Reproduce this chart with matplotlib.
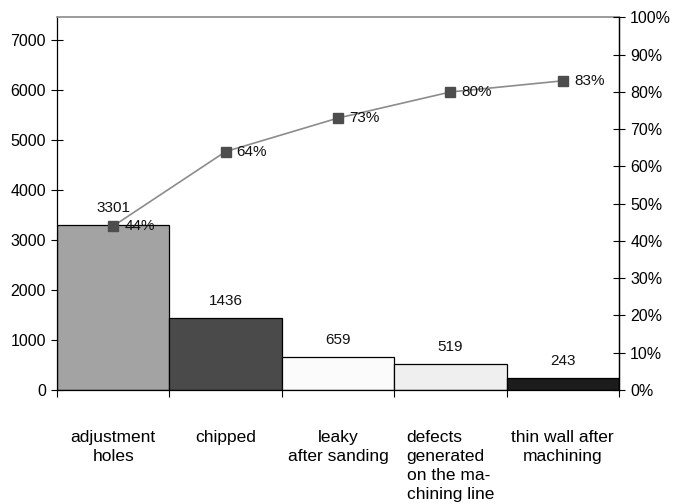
import numpy as np
import matplotlib.pyplot as plt
from matplotlib import font_manager

# --- defect counts and cumulative share ---
categories = ["adjustment\nholes", "chipped", "leaky\nafter sanding",
              "defects\ngenerated\non the ma-\nchining line",
              "thin wall after\nmachining"]
counts = [3301, 1436, 659, 519, 243]
cum_pct = [44, 64, 73, 80, 83]
total_defects = 7450          # left-axis top == 100 % on the right axis

bar_colors = ["#a3a3a3", "#4a4a4a", "#fbfbfb", "#efefef", "#1c1c1c"]

names = {f.name for f in font_manager.fontManager.ttflist}
narrow = "Liberation Sans Narrow" if "Liberation Sans Narrow" in names else "Liberation Sans"

fig = plt.figure(figsize=(6.78, 5.04), dpi=100)
ax = fig.add_axes([0.084, 0.2262, 0.829, 0.7391])

x = np.arange(len(counts))
ax.bar(x, counts, width=1.0, color=bar_colors, edgecolor="black", linewidth=0.9, zorder=2)
ax.set_xlim(-0.5, len(counts) - 0.5)
ax.set_ylim(0, total_defects)

for xi, c in zip(x, counts):
    ax.annotate(str(c), (xi, c), xytext=(0, 7), textcoords="offset points",
                ha="center", va="bottom", fontsize=11, family=narrow, color="#111111")

# bar boundaries carry the ticks, names sit under the bar centres
ax.set_xticks(np.arange(len(counts) + 1) - 0.5)
ax.set_xticklabels([])
ax.tick_params(axis="x", which="major", direction="out", length=5, width=0.8)
ax.set_xticks(x, minor=True)
ax.set_xticklabels(categories, minor=True, fontsize=12.5, family="Liberation Sans",
                   linespacing=1.33, va="top")
for lbl in ax.get_xticklabels(minor=True):
    lbl.set_multialignment("left" if "defects" in lbl.get_text() else "center")
ax.tick_params(axis="x", which="minor", length=0, pad=29)

ax.set_yticks(np.arange(0, 7001, 1000))
ax.tick_params(axis="y", direction="inout", length=8, width=0.8, labelsize=11.5, pad=4)
for lbl in ax.get_yticklabels():
    lbl.set_family(narrow)

for side in ("left", "bottom", "right"):
    ax.spines[side].set_color("black")
    ax.spines[side].set_linewidth(0.9)
ax.spines["top"].set_color("#8a8a8a")
ax.spines["top"].set_linewidth(1.2)

# cumulative percentage line on the right axis
ax2 = ax.twinx()
ax2.set_ylim(0, 1)
ax2.plot(x, np.array(cum_pct) / 100, color="#8c8c8c", lw=1.2, marker="s",
         markersize=6.5, markerfacecolor="#4d4d4d", markeredgecolor="#4d4d4d", zorder=3)
for xi, p in zip(x, cum_pct):
    ax2.annotate(f"{p}%", (xi, p / 100), xytext=(8, 0), textcoords="offset points",
                 ha="left", va="center", fontsize=11, family=narrow, color="#111111")
ax2.set_yticks(np.arange(0, 1.01, 0.1))
ax2.set_yticklabels([f"{int(round(v * 100))}%" for v in np.arange(0, 1.01, 0.1)])
ax2.tick_params(axis="y", direction="inout", length=8, width=0.8, labelsize=11.5, pad=4)
for lbl in ax2.get_yticklabels():
    lbl.set_family(narrow)
for side in ("left", "bottom", "top"):
    ax2.spines[side].set_visible(False)
ax2.spines["right"].set_color("black")
ax2.spines["right"].set_linewidth(0.9)

fig.savefig("out.png", dpi=100)
